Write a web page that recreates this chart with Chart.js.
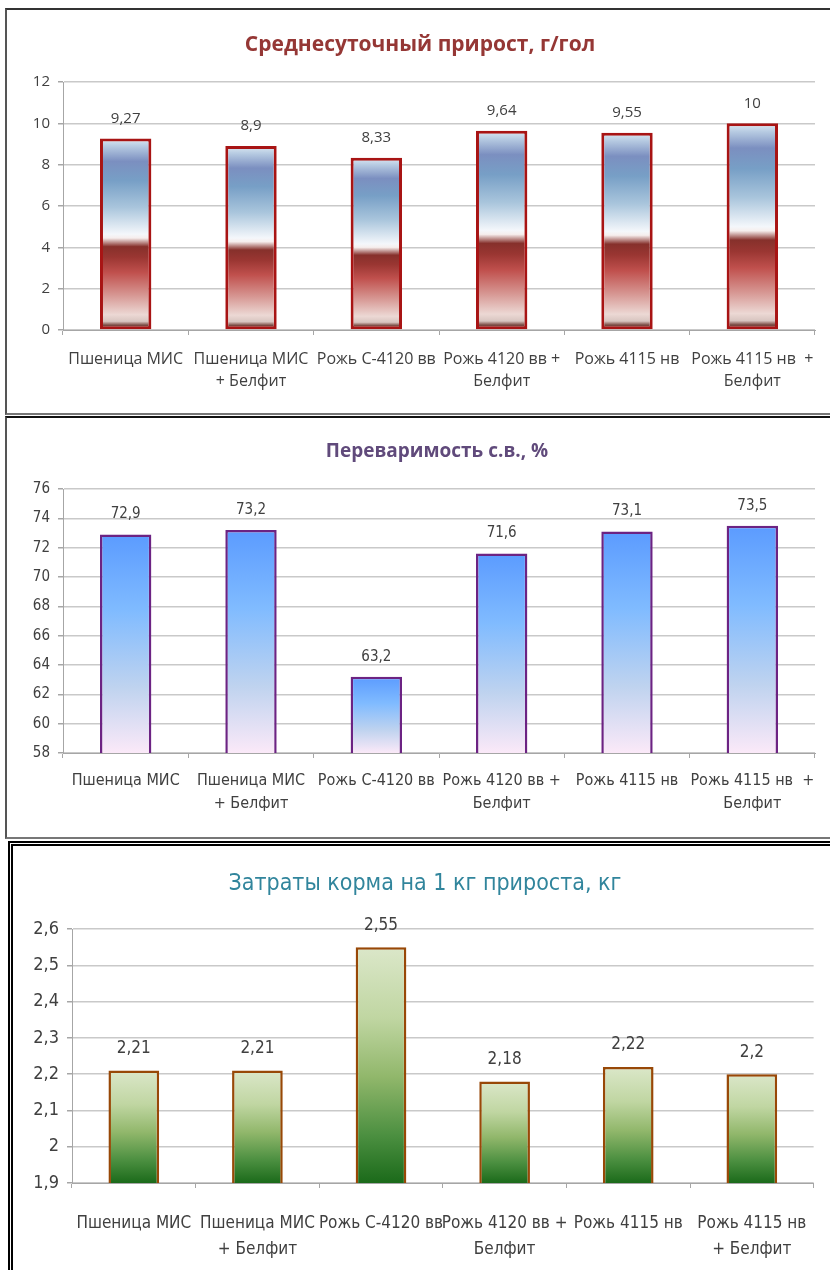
<!DOCTYPE html>
<html>
<head>
<meta charset="utf-8">
<script src="https://cdn.jsdelivr.net/npm/chart.js@4.4.1/dist/chart.umd.min.js"></script>
<style>
  body { margin: 0; background: #fff; width: 830px; height: 1270px; overflow: hidden; position: relative; }
  .panel { position: absolute; box-sizing: border-box; pointer-events: none; }
  #p1 { left: 5px; top: 8px; width: 900px; height: 407px; border-left: 2px solid #555; border-top: 2px solid #333; border-bottom: 2px solid #777; }
  #p2 { left: 5px; top: 416px; width: 900px; height: 423px; border-left: 2px solid #555; border-top: 2px solid #111; border-bottom: 2px solid #777; }
  #p3 { left: 8px; top: 841px; width: 900px; height: 440px; border-left: 5px double #000; border-top: 5px double #000; }
  .wrap { position: absolute; left: 0; width: 830px; }
</style>
</head>
<body>
<div class="wrap" style="top:10px;height:404px"><canvas id="gainChart"></canvas></div>
<div class="wrap" style="top:418px;height:418px"><canvas id="digestChart"></canvas></div>
<div class="wrap" style="top:844px;height:426px"><canvas id="feedChart"></canvas></div>
<div class="panel" id="p1"></div>
<div class="panel" id="p2"></div>
<div class="panel" id="p3"></div>

<script>
// categories
const groups = [
    ['Пшеница МИС'],
    ['Пшеница МИС', '+ Белфит'],
    ['Рожь С-4120 вв'],
    ['Рожь 4120 вв +', 'Белфит'],
    ['Рожь 4115 нв'],
    ['Рожь 4115 нв  +', 'Белфит']
];
const groupsFeed = [
    ['Пшеница МИС'],
    ['Пшеница МИС', '+ Белфит'],
    ['Рожь С-4120 вв'],
    ['Рожь 4120 вв +', 'Белфит'],
    ['Рожь 4115 нв'],
    ['Рожь 4115 нв', '+ Белфит']
];

// values
const dailyGain = [9.27, 8.9, 8.33, 9.64, 9.55, 10];
const digestibility = [72.9, 73.2, 63.2, 71.6, 73.1, 73.5];
const feedCost = [2.21, 2.21, 2.55, 2.18, 2.22, 2.2];

// axis ranges: min, max, step
const gainTicks = [0, 12, 2];
const digestTicks = [58, 76, 2];
const feedTicks = [1.9, 2.6, 0.1];

const commaNum = v => String(Number(Number(v).toFixed(2))).replace('.', ',');

// value labels above the bars
const valueLabels = {
    id: 'valueLabels',
    afterDatasetsDraw(chart, args, opts) {
        const ctx = chart.ctx;
        const meta = chart.getDatasetMeta(0);
        ctx.save();
        ctx.font = opts.font;
        ctx.fillStyle = opts.color;
        ctx.textAlign = 'center';
        ctx.textBaseline = 'middle';
        meta.data.forEach((bar, i) => {
            ctx.fillText(commaNum(chart.data.datasets[0].data[i]), bar.x, bar.y - opts.offset);
        });
        ctx.restore();
    }
};

// chart title, placed freely (the built-in one is always centred on the canvas)
const panelTitle = {
    id: 'panelTitle',
    afterDraw(chart, args, opts) {
        const ctx = chart.ctx;
        ctx.save();
        ctx.font = opts.font;
        ctx.fillStyle = opts.color;
        ctx.textAlign = 'center';
        ctx.textBaseline = 'middle';
        ctx.fillText(opts.text, opts.x, opts.y);
        ctx.restore();
    }
};

// gradient from the top of each bar down to the axis
function barGradient(stops) {
    return function (c) {
        const chart = c.chart;
        if (!chart.chartArea || c.type !== 'data') return stops[0][1];
        const y = chart.scales.y;
        const top = y.getPixelForValue(c.raw);
        const bottom = y.getPixelForValue(y.min);
        const g = chart.ctx.createLinearGradient(0, top, 0, bottom);
        stops.forEach(s => g.addColorStop(s[0], s[1]));
        return g;
    };
}

function makeChart(id, cfg) {
    const ctx = document.getElementById(id).getContext('2d');
    return new Chart(ctx, {
        type: 'bar',
        data: {
            labels: cfg.labels,
            datasets: [{
                data: cfg.data,
                backgroundColor: barGradient(cfg.stops),
                borderColor: cfg.border,
                borderWidth: cfg.borderWidth,
                borderSkipped: false,
                categoryPercentage: 1,
                barPercentage: 0.41
            }]
        },
        options: {
            responsive: true,
            maintainAspectRatio: false,
            animation: false,
            layout: { padding: { left: 0, right: cfg.right, top: cfg.top, bottom: 0 } },
            plugins: {
                legend: { display: false },
                tooltip: { enabled: false },
                title: { display: false },
                panelTitle: cfg.title,
                valueLabels: { font: cfg.valueFont, color: '#404040', offset: cfg.valueOffset }
            },
            scales: {
                x: {
                    afterFit: s => { s.height = cfg.xHeight; },
                    grid: { drawOnChartArea: false, color: '#a6a6a6', tickLength: 5, offset: true },
                    border: { color: '#a6a6a6', width: 1 },
                    ticks: {
                        color: '#404040',
                        padding: cfg.xPad,
                        maxRotation: 0,
                        autoSkip: false,
                        font: { family: cfg.family, size: cfg.xSize, lineHeight: cfg.xLine }
                    }
                },
                y: {
                    min: cfg.ticks[0],
                    max: cfg.ticks[1],
                    afterFit: s => { s.width = cfg.yWidth; },
                    grid: { color: '#c9c9c9', lineWidth: 1.5, tickLength: 5, tickColor: '#a6a6a6' },
                    border: { color: '#a6a6a6', width: 1 },
                    ticks: {
                        stepSize: cfg.ticks[2],
                        color: '#404040',
                        padding: 8,
                        font: { family: cfg.family, size: cfg.ySize },
                        callback: v => commaNum(v)
                    }
                }
            }
        },
        plugins: [valueLabels, panelTitle]
    });
}

const sans = '"Open Sans", "Noto Sans", sans-serif';
const narrow = '"Liberation Sans Narrow", "DejaVu Sans Condensed", sans-serif';

makeChart('gainChart', {
    labels: groups,
    data: dailyGain,
    ticks: gainTicks,
    title: { text: 'Среднесуточный прирост, г/гол', color: '#953735', font: 'bold 21px ' + sans, x: 420, y: 35 },
    top: 72,
    family: sans,
    xSize: 16, xLine: 1.4, xPad: 13,
    ySize: 15,
    yWidth: 63, xHeight: 84, right: 15,
    valueFont: '15px ' + sans, valueOffset: 20,
    border: '#a81414', borderWidth: 3,
    stops: [
        [0, '#dde9f3'], [0.04, '#b7cbe2'], [0.12, '#7b8fc0'], [0.22, '#779fc6'],
        [0.36, '#a9c5dc'], [0.5, '#f4f7fb'], [0.52, '#f6eeed'], [0.565, '#86302b'],
        [0.62, '#9a3632'], [0.7, '#c0504d'], [0.82, '#d79894'], [0.92, '#ecd8d4'],
        [0.955, '#d8c5c0'], [0.975, '#7a4a42'], [1, '#6a3a33']
    ]
});

makeChart('digestChart', {
    labels: groups,
    data: digestibility,
    ticks: digestTicks,
    title: { text: 'Переваримость с.в., %', color: '#604a7b', font: 'bold 19px ' + sans, x: 437, y: 34 },
    top: 71,
    family: narrow,
    xSize: 16, xLine: 1.4, xPad: 12,
    ySize: 15,
    yWidth: 63, xHeight: 83, right: 15,
    valueFont: '15px ' + narrow, valueOffset: 20,
    border: '#6c2383', borderWidth: 2.5,
    stops: [
        [0, '#5b9bff'], [0.35, '#80bbff'], [0.7, '#bfd3ef'], [1, '#fbe9f8']
    ]
});

makeChart('feedChart', {
    labels: groupsFeed,
    data: feedCost,
    ticks: feedTicks,
    title: { text: 'Затраты корма на 1 кг прироста, кг', color: '#31859c', font: '23px ' + narrow, x: 425, y: 40 },
    top: 85,
    family: narrow,
    xSize: 17, xLine: 1.5, xPad: 23,
    ySize: 18,
    yWidth: 72, xHeight: 87, right: 8,
    valueFont: '17px ' + narrow, valueOffset: 22,
    border: '#984807', borderWidth: 2.5,
    stops: [
        [0, '#dbe7c9'], [0.3, '#c0d6a2'], [0.55, '#91b76b'], [0.8, '#4b8f40'], [1, '#1b6a1a']
    ]
});
</script>
</body>
</html>
